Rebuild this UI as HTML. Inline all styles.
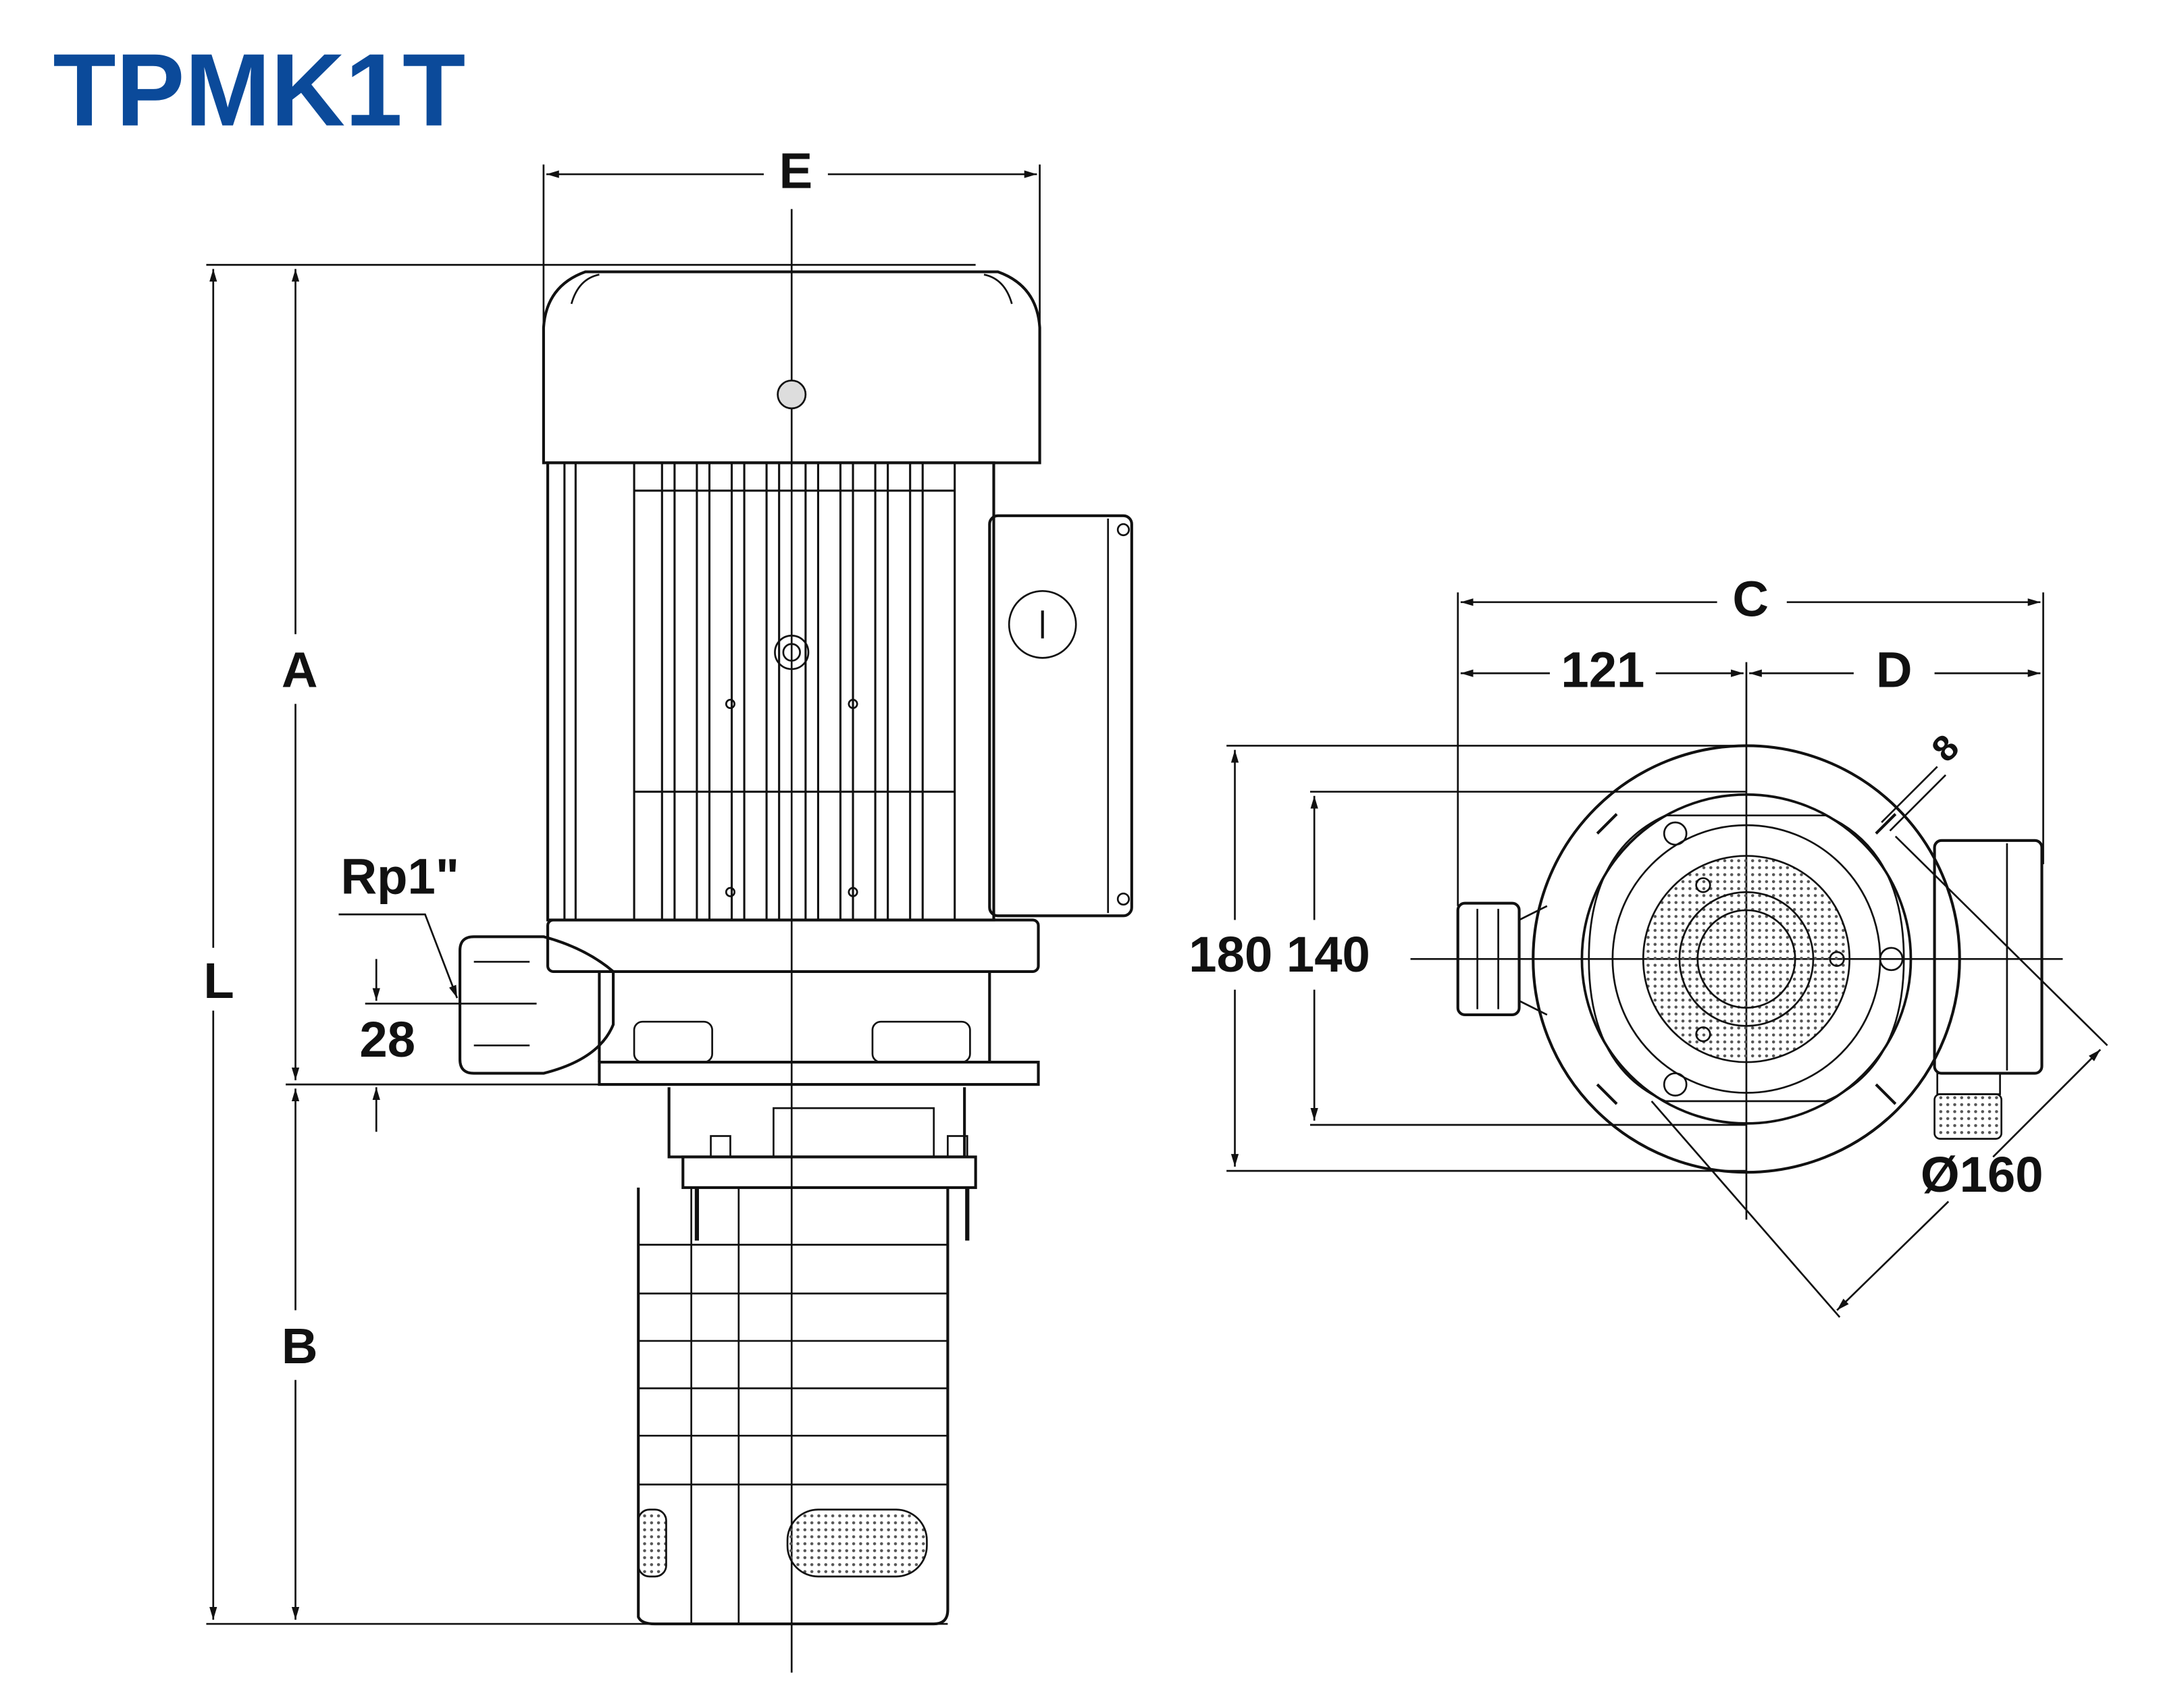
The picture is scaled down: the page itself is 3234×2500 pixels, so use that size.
<!DOCTYPE html>
<html><head><meta charset="utf-8"><style>
html,body{margin:0;padding:0;background:#fff;}
svg{display:block;}
text{font-family:"Liberation Sans",sans-serif;font-weight:bold;fill:#111;}
</style></head><body>
<svg width="3234" height="2500" viewBox="0 0 1567 1211" preserveAspectRatio="none" xmlns="http://www.w3.org/2000/svg">
<defs>
<marker id="a" viewBox="0 0 10 10" refX="10" refY="5" markerWidth="7" markerHeight="7" orient="auto-start-reverse"><path d="M0,2 L10,5 L0,8 z" fill="#111"/></marker>
<pattern id="dots" width="5" height="5" patternUnits="userSpaceOnUse"><circle cx="2.5" cy="2.5" r="1.1" fill="#555"/></pattern>
</defs>
<rect width="1567" height="1211" fill="#fff"/>
<text x="38" y="90" font-size="74" style="fill:#0b4a9a">TPMK1T</text>

<g stroke="#111" stroke-width="1.3" fill="none">
<line x1="390" y1="118" x2="390" y2="240"/><line x1="746" y1="118" x2="746" y2="240"/>
<line x1="392" y1="125" x2="548" y2="125" marker-start="url(#a)"/>
<line x1="594" y1="125" x2="744" y2="125" marker-end="url(#a)"/>
<line x1="568" y1="150" x2="568" y2="1200"/>
<line x1="148" y1="190" x2="700" y2="190"/>
<line x1="148" y1="1165" x2="680" y2="1165"/>
<line x1="205" y1="778" x2="440" y2="778"/>
<line x1="153" y1="193" x2="153" y2="680" marker-start="url(#a)"/>
<line x1="153" y1="725" x2="153" y2="1162" marker-end="url(#a)"/>
<line x1="212" y1="193" x2="212" y2="455" marker-start="url(#a)"/>
<line x1="212" y1="505" x2="212" y2="775" marker-end="url(#a)"/>
<line x1="212" y1="781" x2="212" y2="940" marker-start="url(#a)"/>
<line x1="212" y1="990" x2="212" y2="1162" marker-end="url(#a)"/>
<line x1="262" y1="720" x2="385" y2="720"/>
<line x1="270" y1="688" x2="270" y2="718" marker-end="url(#a)"/>
<line x1="270" y1="812" x2="270" y2="780" marker-end="url(#a)"/>
<polyline points="243,656 305,656 328,716" marker-end="url(#a)"/>

<path d="M390,332 L390,235 Q392,205 420,195 L716,195 Q744,205 746,235 L746,332 Z" stroke-width="2"/>
<path d="M410,218 Q415,200 430,197 M726,218 Q721,200 706,197"/>
<circle cx="568" cy="283" r="10" fill="#ddd"/>
<rect x="393" y="332" width="320" height="328" stroke-width="2"/>
<g stroke-width="1.5">
<line x1="405" y1="332" x2="405" y2="660"/><line x1="413" y1="332" x2="413" y2="660"/>
<line x1="455" y1="332" x2="455" y2="660"/>
<line x1="475" y1="332" x2="475" y2="660"/><line x1="484" y1="332" x2="484" y2="660"/>
<line x1="500" y1="332" x2="500" y2="660"/><line x1="509" y1="332" x2="509" y2="660"/>
<line x1="525" y1="332" x2="525" y2="660"/><line x1="534" y1="332" x2="534" y2="660"/>
<line x1="550" y1="332" x2="550" y2="660"/><line x1="559" y1="332" x2="559" y2="660"/>
<line x1="578" y1="332" x2="578" y2="660"/><line x1="587" y1="332" x2="587" y2="660"/>
<line x1="603" y1="332" x2="603" y2="660"/><line x1="612" y1="332" x2="612" y2="660"/>
<line x1="628" y1="332" x2="628" y2="660"/><line x1="637" y1="332" x2="637" y2="660"/>
<line x1="653" y1="332" x2="653" y2="660"/><line x1="662" y1="332" x2="662" y2="660"/>
<line x1="685" y1="332" x2="685" y2="660"/>
<line x1="455" y1="352" x2="685" y2="352"/><line x1="455" y1="568" x2="685" y2="568"/>
</g>
<circle cx="568" cy="468" r="12"/><circle cx="568" cy="468" r="6"/>
<circle cx="524" cy="505" r="3"/><circle cx="612" cy="505" r="3"/>
<circle cx="524" cy="640" r="3"/><circle cx="612" cy="640" r="3"/>
<rect x="710" y="370" width="102" height="287" rx="6" stroke-width="2"/>
<line x1="795" y1="372" x2="795" y2="655"/>
<circle cx="748" cy="448" r="24"/><line x1="748" y1="438" x2="748" y2="458" stroke-width="2"/>
<circle cx="806" cy="380" r="4"/><circle cx="806" cy="645" r="4"/>
<rect x="393" y="660" width="352" height="37" rx="4" stroke-width="2"/>
<path d="M430,697 L430,762 M710,697 L710,762" stroke-width="2"/>
<rect x="430" y="762" width="315" height="16" stroke-width="2"/>
<rect x="455" y="733" width="56" height="29" rx="6"/><rect x="626" y="733" width="70" height="29" rx="6"/>
<path d="M390,672 L340,672 Q330,672 330,682 L330,760 Q330,770 340,770 L390,770 Q430,760 440,735 L440,697 Q420,680 390,672 Z" stroke-width="2"/>
<line x1="340" y1="690" x2="380" y2="690"/><line x1="340" y1="750" x2="380" y2="750"/>
<path d="M480,780 L480,830 L692,830 L692,780" stroke-width="2"/>
<rect x="490" y="830" width="210" height="22" stroke-width="2"/>
<rect x="555" y="795" width="115" height="35"/>
<rect x="510" y="815" width="14" height="15"/><rect x="680" y="815" width="14" height="15"/>
<path d="M458,852 L458,1160 Q460,1165 470,1165 L670,1165 Q680,1165 680,1155 L680,852" stroke-width="2"/>
<line x1="496" y1="852" x2="496" y2="1165"/><line x1="530" y1="852" x2="530" y2="1165"/>
<line x1="500" y1="852" x2="500" y2="890" stroke-width="3"/><line x1="694" y1="852" x2="694" y2="890" stroke-width="3"/>
<g><line x1="458" y1="893" x2="680" y2="893"/><line x1="458" y1="928" x2="680" y2="928"/><line x1="458" y1="962" x2="680" y2="962"/><line x1="458" y1="996" x2="680" y2="996"/><line x1="458" y1="1030" x2="680" y2="1030"/><line x1="458" y1="1065" x2="680" y2="1065"/></g>
<rect x="565" y="1083" width="100" height="48" rx="22" fill="url(#dots)"/>
<rect x="458" y="1083" width="20" height="48" rx="8" fill="url(#dots)"/>

<line x1="1046" y1="425" x2="1046" y2="650"/><line x1="1466" y1="425" x2="1466" y2="620"/>
<line x1="1253" y1="475" x2="1253" y2="875"/>
<line x1="1048" y1="432" x2="1232" y2="432" marker-start="url(#a)"/>
<line x1="1282" y1="432" x2="1464" y2="432" marker-end="url(#a)"/>
<line x1="1048" y1="483" x2="1112" y2="483" marker-start="url(#a)"/>
<line x1="1188" y1="483" x2="1251" y2="483" marker-end="url(#a)"/>
<line x1="1255" y1="483" x2="1330" y2="483" marker-start="url(#a)"/>
<line x1="1388" y1="483" x2="1464" y2="483" marker-end="url(#a)"/>
<line x1="880" y1="535" x2="1253" y2="535"/><line x1="880" y1="840" x2="1253" y2="840"/>
<line x1="940" y1="568" x2="1253" y2="568"/><line x1="940" y1="807" x2="1253" y2="807"/>
<line x1="886" y1="538" x2="886" y2="660" marker-start="url(#a)"/>
<line x1="886" y1="710" x2="886" y2="837" marker-end="url(#a)"/>
<line x1="943" y1="571" x2="943" y2="660" marker-start="url(#a)"/>
<line x1="943" y1="710" x2="943" y2="804" marker-end="url(#a)"/>
<line x1="1012" y1="688" x2="1480" y2="688"/>
<line x1="1360" y1="600" x2="1512" y2="750"/>
<line x1="1185" y1="790" x2="1320" y2="945"/>
<line x1="1318" y1="940" x2="1398" y2="862" marker-start="url(#a)"/>
<line x1="1430" y1="830" x2="1507" y2="753" marker-end="url(#a)"/>
<circle cx="1253" cy="688" r="153" stroke-width="2"/>
<circle cx="1253" cy="688" r="118" stroke-width="1.8"/>
<circle cx="1253" cy="688" r="96"/>
<circle cx="1253" cy="688" r="74" fill="url(#dots)"/>
<circle cx="1253" cy="688" r="48"/><circle cx="1253" cy="688" r="35"/>
<path d="M1140,688 Q1140,610 1195,585 L1310,585 Q1366,610 1366,688 Q1366,766 1310,790 L1195,790 Q1140,766 1140,688 Z"/>
<circle cx="1202" cy="598" r="8"/><circle cx="1357" cy="688" r="8"/><circle cx="1202" cy="778" r="8"/>
<circle cx="1222" cy="635" r="5"/><circle cx="1318" cy="688" r="5"/><circle cx="1222" cy="742" r="5"/>
<path d="M1146,598 L1160,584 M1346,598 L1360,584 M1146,778 L1160,792 M1346,778 L1360,792" stroke-width="2"/>
<line x1="1350" y1="590" x2="1390" y2="550"/><line x1="1356" y1="596" x2="1396" y2="556"/>
<rect x="1046" y="648" width="44" height="80" rx="5" stroke-width="2"/>
<line x1="1060" y1="652" x2="1060" y2="724"/><line x1="1075" y1="652" x2="1075" y2="724"/>
<path d="M1090,660 L1110,650 M1090,718 L1110,728"/>
<rect x="1388" y="603" width="77" height="167" rx="5" stroke-width="2"/>
<line x1="1440" y1="605" x2="1440" y2="768"/>
<rect x="1390" y="770" width="45" height="15"/>
<rect x="1388" y="785" width="48" height="32" rx="4" fill="url(#dots)"/>
</g>

<g font-size="36" text-anchor="middle">
<text x="571" y="135">E</text>
<text x="215" y="493">A</text>
<text x="157" y="716">L</text>
<text x="215" y="978">B</text>
<text x="278" y="758">28</text>
<text x="287" y="641">Rp1"</text>
<text x="1256" y="442">C</text>
<text x="1150" y="493">121</text>
<text x="1359" y="493">D</text>
<text x="918" y="697">180 140</text>
<text x="1422" y="855">Ø160</text>
<text x="1402" y="543" font-size="26" transform="rotate(-45 1402 543)">8</text>
</g>
</svg>
</body></html>
